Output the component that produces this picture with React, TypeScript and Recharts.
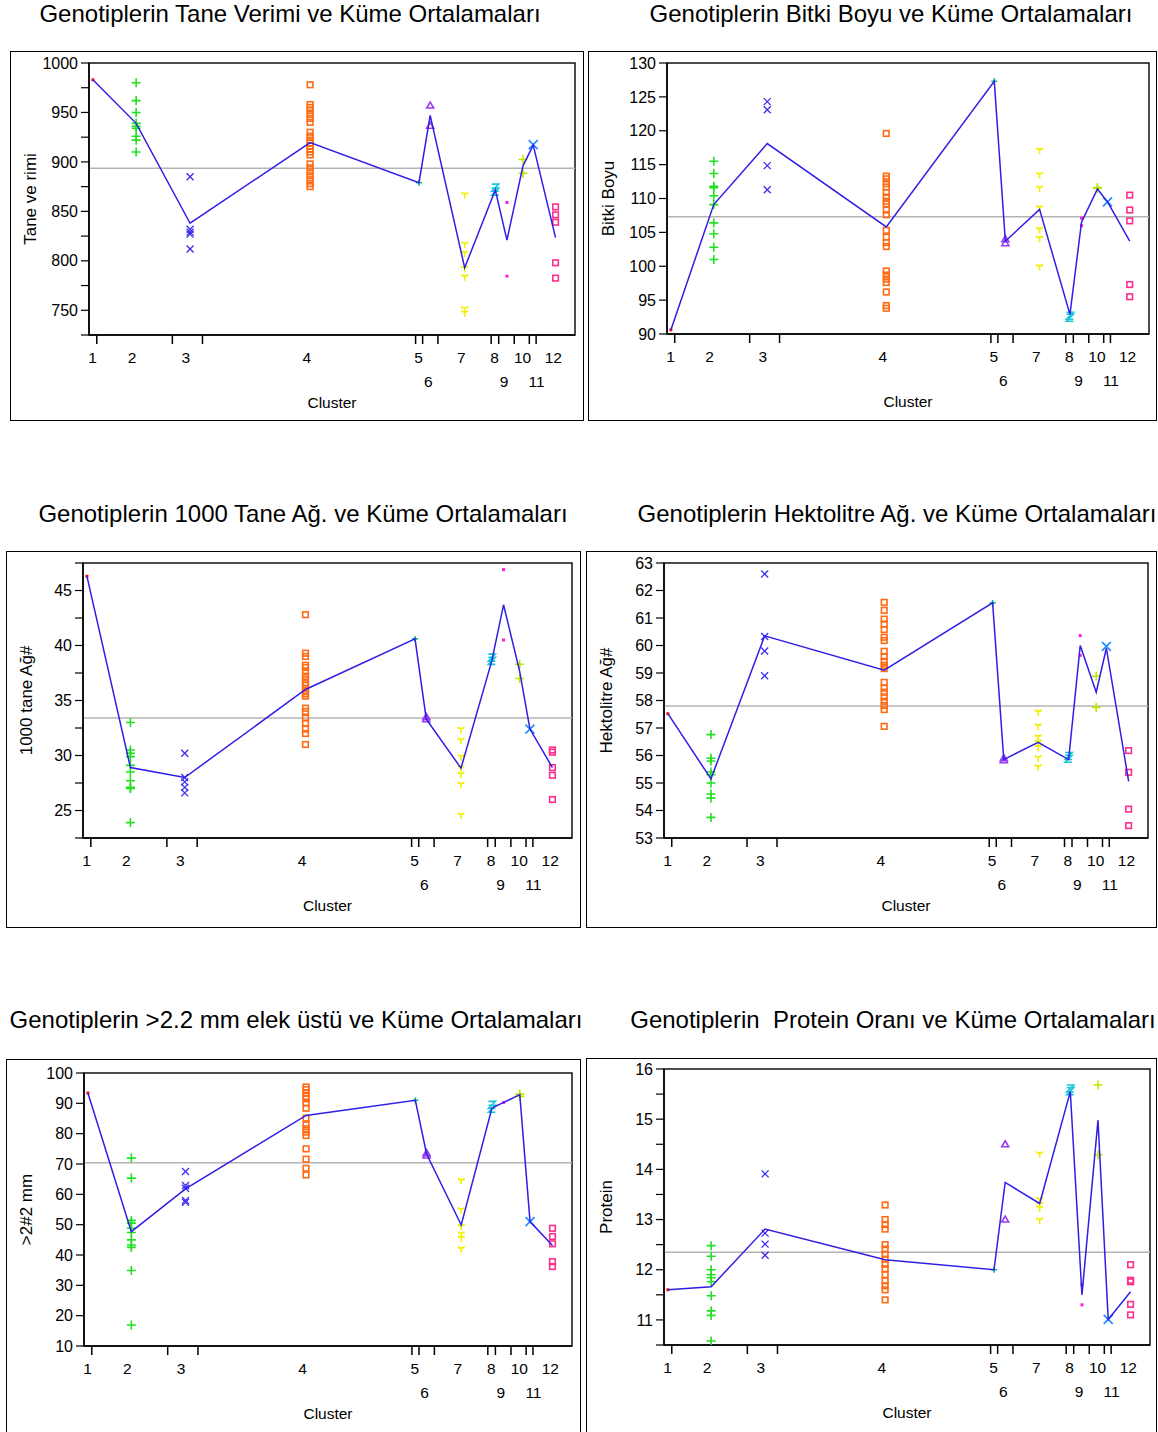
import React from 'react';
import { ScatterChart, Scatter, XAxis, YAxis, ReferenceLine, ReferenceArea } from 'recharts';

// ---------- shared x-axis data ----------
const clusterNames = ['1', '2', '3', '4', '5', '6', '7', '8', '9', '10', '11', '12'];
const clusterX = [0.8, 9.7, 20.8, 45.5, 67.9, 70.2, 77.3, 83.6, 86.0, 89.3, 91.4, 96.0];
const labelX = [0.75, 8.85, 19.9, 44.8, 67.8, 69.8, 76.6, 83.45, 85.4, 89.2, 92.1, 95.55];
const labelRow = [1, 1, 1, 1, 1, 2, 1, 1, 2, 1, 2, 1];
const tickMarkX = [1.6, 17.15, 23.35, 67.2, 68.65, 71.8, 82.75, 84.3, 87.5, 90.6, 92.0];

// ---------- panel 1: Tane verimi ----------
const yieldPoints: number[][] = [
  [983],
  [980, 962, 950, 939, 936, 934, 926, 922, 910],
  [885, 832, 829, 827, 812],
  [978, 958, 955, 952, 948, 944, 940, 930, 926, 922, 919, 916, 913, 910, 907, 898, 894, 890, 886, 882, 878, 875],
  [879],
  [957, 936.5],
  [866, 816, 807, 791.5, 783, 750.5, 746.5],
  [874, 870],
  [859, 784.5],
  [902.5, 888.5],
  [917.5],
  [854.5, 846.5, 839, 798, 782.5],
];
const yieldMeans = [983, 939, 838, 919.5, 879, 947, 793, 871.5, 821, 896, 917, 823.5];
const yieldGrand = 893.5;
const yieldTicks = [725, 750, 775, 800, 825, 850, 875, 900, 925, 950, 975, 1000];

// ---------- panel 2: Bitki boyu ----------
const heightPoints: number[][] = [
  [90.6],
  [115.5, 113.7, 111.8, 111.6, 110.4, 109.1, 106.4, 104.8, 102.8, 101.0],
  [124.3, 123.1, 114.85, 111.3],
  [119.6, 113.3, 112.9, 112.2, 111.7, 110.9, 110.2, 109.6, 109.2, 108.3, 107.6, 105.3, 104.3, 103.5, 102.9, 99.3, 98.7, 98.1, 97.6, 96.2, 94.2, 93.8],
  [127.3],
  [104.0, 103.4],
  [117, 113.4, 111.4, 108.5, 105.3, 104, 99.8],
  [92.7, 92.4],
  [107.1, 106.0],
  [111.6, 111.5],
  [109.5],
  [110.5, 108.3, 106.7, 97.3, 95.5],
];
const heightMeans = [90.6, 109.1, 118.1, 105.8, 127.3, 103.7, 108.4, 92.9, 106.5, 111.4, 109.5, 103.7];
const heightGrand = 107.3;
const heightTicks = [90, 95, 100, 105, 110, 115, 120, 125, 130];

// ---------- panel 3: 1000 tane ağırlığı ----------
const tkwPoints: number[][] = [
  [46.3],
  [33.0, 30.5, 30.2, 29.9, 29.1, 28.5, 27.7, 27.1, 27.0, 23.9],
  [30.2, 28.0, 27.6, 27.1, 26.6],
  [42.8, 39.3, 39.0, 38.2, 38.0, 37.6, 37.2, 36.9, 36.6, 36.4, 36.1, 35.8, 35.6, 35.4, 34.3, 34.0, 33.4, 32.95, 32.4, 32.0, 31.0],
  [40.6],
  [33.5, 33.3],
  [32.3, 31.3, 29.8, 28.8, 28.2, 27.3, 24.5],
  [38.9, 38.6],
  [46.9, 40.5],
  [38.3, 37.0],
  [32.4],
  [30.5, 30.3, 28.9, 28.2, 26.0],
];
const tkwMeans = [46.3, 28.9, 28.0, 36.0, 40.6, 33.3, 28.85, 38.6, 43.7, 37.65, 32.4, 28.9];
const tkwGrand = 33.4;
const tkwTicks = [22.5, 25, 27.5, 30, 32.5, 35, 37.5, 40, 42.5, 45, 47.5];

// ---------- panel 4: Hektolitre ağırlığı ----------
const hlPoints: number[][] = [
  [57.52],
  [56.76, 55.9, 55.8, 55.4, 55.3, 55.0, 54.6, 54.45, 53.75],
  [62.6, 60.33, 59.8, 58.9],
  [61.57, 61.28, 60.96, 60.78, 60.58, 60.3, 60.18, 59.79, 59.6, 59.42, 59.28, 59.16, 58.66, 58.45, 58.3, 58.13, 57.97, 57.82, 57.67, 57.06],
  [61.55],
  [55.9, 55.83],
  [57.55, 57.04, 56.64, 56.45, 56.27, 55.88, 55.55],
  [55.98, 55.88],
  [60.36, 59.64],
  [58.88, 57.75],
  [59.97],
  [56.18, 55.39, 54.05, 53.45],
];
const hlMeans = [57.52, 55.15, 60.35, 59.1, 61.55, 55.85, 56.48, 55.85, 60.0, 58.3, 59.9, 55.06];
const hlGrand = 57.8;
const hlTicks = [53, 54, 55, 56, 57, 58, 59, 60, 61, 62, 63];

// ---------- panel 5: >2.2 mm elek üstü ----------
const sievePoints: number[][] = [
  [93.4],
  [71.95, 65.35, 51.4, 50.5, 48.8, 47.4, 45.0, 43.3, 42.5, 34.9, 16.9],
  [67.5, 62.9, 62.0, 58.0, 57.4],
  [95.4, 94.5, 93.4, 92.3, 91.5, 90.1, 88.4, 85.1, 82.9, 81.6, 80.5, 79.4, 75.0, 71.6, 68.6, 66.4],
  [91.0],
  [73.6, 72.8],
  [64.2, 54.6, 49.1, 46.6, 45.3, 41.7],
  [89.5, 88.2],
  [90.3],
  [93.1, 92.3],
  [51.0],
  [48.8, 46.1, 43.7, 37.8, 36.2],
];
const sieveMeans = [93.4, 47.7, 61.8, 86.0, 91.0, 73.3, 49.9, 88.45, 90.3, 92.85, 51.0, 43.1];
const sieveGrand = 70.4;
const sieveTicks = [10, 20, 30, 40, 50, 60, 70, 80, 90, 100];

// ---------- panel 6: Protein ----------
const proteinPoints: number[][] = [
  [11.6],
  [12.48, 12.27, 12.0, 11.9, 11.84, 11.76, 11.48, 11.18, 11.09, 10.58],
  [13.91, 12.73, 12.51, 12.29],
  [13.29, 13.0, 12.9, 12.81, 12.5, 12.41, 12.31, 12.21, 12.11, 12.02, 11.9, 11.78, 11.68, 11.6, 11.4],
  [12.0],
  [14.5, 13.0],
  [14.29, 13.38, 13.29, 13.21, 12.97],
  [15.61, 15.56],
  [11.7, 11.3],
  [15.68, 14.29],
  [11.01],
  [12.1, 11.79, 11.76, 11.31, 11.1],
];
const proteinMeans = [11.6, 11.66, 12.81, 12.2, 12.0, 13.74, 13.32, 15.55, 11.5, 14.98, 11.01, 11.56];
const proteinGrand = 12.35;
const proteinTicks = [10.5, 11, 11.5, 12, 12.5, 13, 13.5, 14, 14.5, 15, 15.5, 16];

// ---------- styles ----------
const FONT = '"Liberation Sans", Arial, Helvetica, sans-serif';
const clusterColors = ['#ff1010', '#22e022', '#3a2cf0', '#ff6a13', '#10b890', '#9a3cf0', '#f2f000', '#14c8d8', '#ff1ee0', '#b8e800', '#1e8cff', '#ff2d8c'];
const clusterShapes = ['dot', 'plus', 'x', 'square', 'smallplus', 'triangle', 'ytee', 'zed', 'dot', 'plus', 'bigx', 'square'];
const MEAN_COLOR = '#2f1fe6';

function markerShape(kind: string, color: string) {
  return (props: any) => {
    const { cx, cy } = props;
    if (cx == null || cy == null) return <g />;
    const sw = 1.6;
    switch (kind) {
      case 'dot':
        return <rect x={cx - 1.5} y={cy - 1.5} width={3} height={3} fill={color} />;
      case 'plus':
        return (
          <path d={`M${cx - 4.5},${cy}L${cx + 4.5},${cy}M${cx},${cy - 4.5}L${cx},${cy + 4.5}`} stroke={color} strokeWidth={sw} fill="none" />
        );
      case 'smallplus':
        return (
          <path d={`M${cx - 3},${cy}L${cx + 3},${cy}M${cx},${cy - 3}L${cx},${cy + 3}`} stroke={color} strokeWidth={sw} fill="none" />
        );
      case 'x':
        return (
          <path d={`M${cx - 3.5},${cy - 3.5}L${cx + 3.5},${cy + 3.5}M${cx - 3.5},${cy + 3.5}L${cx + 3.5},${cy - 3.5}`} stroke={color} strokeWidth={1.3} fill="none" />
        );
      case 'bigx':
        return (
          <path d={`M${cx - 4.5},${cy - 4.5}L${cx + 4.5},${cy + 4.5}M${cx - 4.5},${cy + 4.5}L${cx + 4.5},${cy - 4.5}`} stroke={color} strokeWidth={sw} fill="none" />
        );
      case 'square':
        return <rect x={cx - 2.8} y={cy - 2.8} width={5.6} height={5.6} stroke={color} strokeWidth={sw} fill="none" />;
      case 'triangle':
        return <path d={`M${cx},${cy - 3.5}L${cx + 3.5},${cy + 2.5}L${cx - 3.5},${cy + 2.5}Z`} stroke={color} strokeWidth={sw} fill="none" />;
      case 'ytee':
        return (
          <path d={`M${cx - 3},${cy - 3.5}L${cx - 2.5},${cy - 2}L${cx + 2.5},${cy - 2}L${cx + 3},${cy - 3.5}M${cx},${cy - 2}L${cx},${cy + 3}`} stroke={color} strokeWidth={sw} fill="none" />
        );
      case 'zed':
        return (
          <path d={`M${cx - 3.5},${cy - 3.5}L${cx + 3.5},${cy - 3.5}L${cx - 3.5},${cy + 3.5}L${cx + 3.5},${cy + 3.5}`} stroke={color} strokeWidth={sw} fill="none" />
        );
      default:
        return <g />;
    }
  };
}

const emptyShape = () => <g />;

function XTick(props: any) {
  const { x, y, payload } = props;
  const v = payload && payload.value;
  const ti = tickMarkX.indexOf(v);
  if (ti >= 0) {
    return <line x1={x} x2={x} y1={y} y2={y + 9} stroke="#000" strokeWidth={1.5} />;
  }
  const li = labelX.indexOf(v);
  if (li < 0) return <g />;
  const dy = labelRow[li] === 1 ? 22 : 46;
  return (
    <text x={x} y={y + dy} textAnchor="middle" dominantBaseline="central" fontSize={15.5} fill="#000" fontFamily={FONT}>
      {clusterNames[li]}
    </text>
  );
}

type Box = { l: number; t: number; r: number; b: number };
type PanelDef = {
  title: string;
  yLabel: string;
  points: number[][];
  means: number[];
  grand: number;
  ticks: number[];
  major: number;
  frame: Box;
  plot: Box;
  titleX: number;
  titleY: number;
};

const panels: PanelDef[] = [
  {
    title: 'Genotiplerin Tane Verimi ve Küme Ortalamaları', yLabel: 'Tane ve rimi',
    points: yieldPoints, means: yieldMeans, grand: yieldGrand, ticks: yieldTicks, major: 50,
    frame: { l: 10, t: 51, r: 584, b: 421 }, plot: { l: 89, t: 63, r: 575, b: 335 }, titleX: 290, titleY: 14,
  },
  {
    title: 'Genotiplerin Bitki Boyu ve Küme Ortalamaları', yLabel: 'Bitki Boyu',
    points: heightPoints, means: heightMeans, grand: heightGrand, ticks: heightTicks, major: 5,
    frame: { l: 588, t: 51, r: 1157, b: 421 }, plot: { l: 667, t: 63, r: 1149, b: 334 }, titleX: 891, titleY: 14,
  },
  {
    title: 'Genotiplerin 1000 Tane Ağ. ve Küme Ortalamaları', yLabel: '1000 tane Ağ#',
    points: tkwPoints, means: tkwMeans, grand: tkwGrand, ticks: tkwTicks, major: 5,
    frame: { l: 6, t: 551, r: 581, b: 928 }, plot: { l: 83, t: 563, r: 572, b: 838 }, titleX: 303, titleY: 514,
  },
  {
    title: 'Genotiplerin Hektolitre Ağ. ve Küme Ortalamaları', yLabel: 'Hektolitre Ağ#',
    points: hlPoints, means: hlMeans, grand: hlGrand, ticks: hlTicks, major: 1,
    frame: { l: 586, t: 551, r: 1157, b: 928 }, plot: { l: 664, t: 563, r: 1148, b: 838 }, titleX: 897, titleY: 514,
  },
  {
    title: 'Genotiplerin >2.2 mm elek üstü ve Küme Ortalamaları', yLabel: '>2#2 mm',
    points: sievePoints, means: sieveMeans, grand: sieveGrand, ticks: sieveTicks, major: 10,
    frame: { l: 6, t: 1059, r: 581, b: 1445 }, plot: { l: 84, t: 1073, r: 572, b: 1346 }, titleX: 296, titleY: 1020,
  },
  {
    title: 'Genotiplerin  Protein Oranı ve Küme Ortalamaları', yLabel: 'Protein',
    points: proteinPoints, means: proteinMeans, grand: proteinGrand, ticks: proteinTicks, major: 1,
    frame: { l: 586, t: 1058, r: 1157, b: 1445 }, plot: { l: 664, t: 1069, r: 1150, b: 1345 }, titleX: 893, titleY: 1020,
  },
];

function isMajor(v: number, step: number) {
  const q = v / step;
  return Math.abs(q - Math.round(q)) < 1e-6;
}

function Panel({ p }: { p: PanelDef }) {
  const { frame, plot } = p;
  const w = frame.r - frame.l;
  const h = frame.b - frame.t;
  const yMin = p.ticks[0];
  const yMax = p.ticks[p.ticks.length - 1];
  const meanData = p.means.map((m, i) => ({ x: clusterX[i], y: m }));
  const xTicks = [...tickMarkX, ...labelX];
  return (
    <>
      <div
        style={{
          position: 'absolute', left: p.titleX - 320, top: p.titleY - 15, width: 640, height: 30,
          lineHeight: '30px', textAlign: 'center', fontSize: 24, fontFamily: FONT, color: '#000', whiteSpace: 'pre',
        }}
      >
        {p.title}
      </div>
      <div
        style={{
          position: 'absolute', left: frame.l, top: frame.t, width: w, height: h,
          border: '1.5px solid #000', boxSizing: 'border-box',
        }}
      />
      <div style={{ position: 'absolute', left: frame.l, top: frame.t }}>
        <ScatterChart
          width={w}
          height={h}
          margin={{ top: plot.t - frame.t, right: frame.r - plot.r, left: 0, bottom: 0 }}
        >
          <XAxis
            type="number"
            dataKey="x"
            domain={[0, 100]}
            allowDataOverflow
            ticks={xTicks}
            interval={0}
            tickLine={false}
            tickSize={0}
            tickMargin={0}
            tick={(tp: any) => <XTick {...tp} />}
            axisLine={{ stroke: '#000', strokeWidth: 1.5 }}
            height={frame.b - plot.b}
            label={{ value: 'Cluster', position: 'insideTop', offset: 62, fontSize: 15.5, fill: '#000', fontFamily: FONT }}
          />
          <YAxis
            type="number"
            dataKey="y"
            domain={[yMin, yMax]}
            allowDataOverflow
            ticks={p.ticks}
            interval={0}
            tickSize={8}
            tickMargin={3}
            tickLine={{ stroke: '#000', strokeWidth: 1.2 }}
            axisLine={{ stroke: '#000', strokeWidth: 1.5 }}
            tick={{ fontSize: 16, fill: '#000', fontFamily: FONT }}
            tickFormatter={(v: number) => (isMajor(v, p.major) ? String(v) : '')}
            width={plot.l - frame.l}
            label={{
              value: p.yLabel, angle: -90, position: 'insideLeft', offset: 20,
              fontSize: 17, fill: '#000', fontFamily: FONT, style: { textAnchor: 'middle' },
            }}
          />
          <ReferenceArea x1={0} x2={100} y1={yMin} y2={yMax} fill="none" stroke="#111" strokeWidth={1.5} ifOverflow="visible" />
          <ReferenceLine y={p.grand} stroke="#b4b4b4" strokeWidth={1.5} />
          {p.points.map((vals, i) => (
            <Scatter
              key={i}
              data={vals.map((v) => ({ x: clusterX[i], y: v }))}
              shape={markerShape(clusterShapes[i], clusterColors[i])}
              isAnimationActive={false}
              legendType="none"
            />
          ))}
          <Scatter
            data={meanData}
            line={{ stroke: MEAN_COLOR, strokeWidth: 1.5 }}
            lineType="joint"
            shape={emptyShape}
            isAnimationActive={false}
            legendType="none"
          />
        </ScatterChart>
      </div>
    </>
  );
}

export default function App() {
  return (
    <div
      style={{
        position: 'absolute', left: 0, top: 0, width: 1158, height: 1432, overflow: 'hidden',
        background: '#fff', fontFamily: FONT,
      }}
    >
      {panels.map((p, i) => (
        <Panel key={i} p={p} />
      ))}
    </div>
  );
}
